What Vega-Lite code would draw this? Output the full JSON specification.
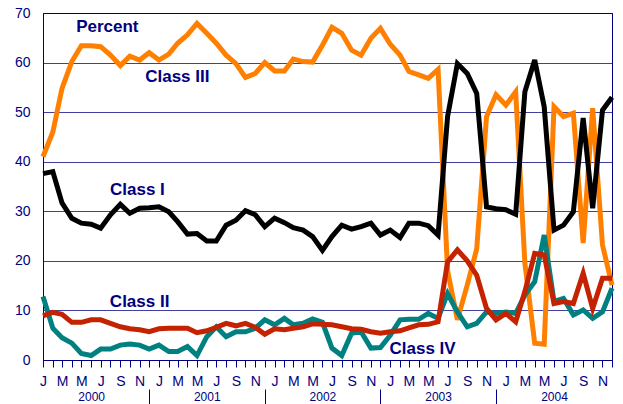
{
  "$schema": "https://vega.github.io/schema/vega-lite/v6.json",
  "width": 569,
  "height": 347,
  "autosize": "none",
  "padding": {"left": 43, "top": 13, "right": 11, "bottom": 44},
  "background": "white",
  "view": {"stroke": "#000080", "strokeWidth": 1},
  "config": {"view": {"stroke": "#000080", "strokeWidth": 1}, "font": "Liberation Sans"},
  "datasets": {
    "share": [
      {"d": "2000-01-01", "I": 37.6, "II": 8.9, "III": 41.0, "IV": 12.8},
      {"d": "2000-02-01", "I": 38.0, "II": 9.6, "III": 46.0, "IV": 6.4},
      {"d": "2000-03-01", "I": 31.7, "II": 9.2, "III": 54.8, "IV": 4.5},
      {"d": "2000-04-01", "I": 28.6, "II": 7.6, "III": 60.2, "IV": 3.4},
      {"d": "2000-05-01", "I": 27.6, "II": 7.6, "III": 63.4, "IV": 1.3},
      {"d": "2000-06-01", "I": 27.4, "II": 8.1, "III": 63.4, "IV": 0.9},
      {"d": "2000-07-01", "I": 26.6, "II": 8.1, "III": 63.2, "IV": 2.2},
      {"d": "2000-08-01", "I": 29.3, "II": 7.4, "III": 61.5, "IV": 2.2},
      {"d": "2000-09-01", "I": 31.4, "II": 6.7, "III": 59.4, "IV": 3.0},
      {"d": "2000-10-01", "I": 29.6, "II": 6.3, "III": 61.3, "IV": 3.2},
      {"d": "2000-11-01", "I": 30.6, "II": 6.1, "III": 60.5, "IV": 3.0},
      {"d": "2000-12-01", "I": 30.7, "II": 5.7, "III": 62.0, "IV": 2.2},
      {"d": "2001-01-01", "I": 30.9, "II": 6.3, "III": 60.5, "IV": 3.0},
      {"d": "2001-02-01", "I": 29.9, "II": 6.4, "III": 61.7, "IV": 1.7},
      {"d": "2001-03-01", "I": 27.9, "II": 6.4, "III": 63.9, "IV": 1.7},
      {"d": "2001-04-01", "I": 25.4, "II": 6.4, "III": 65.6, "IV": 2.7},
      {"d": "2001-05-01", "I": 25.5, "II": 5.5, "III": 67.9, "IV": 0.9},
      {"d": "2001-06-01", "I": 24.0, "II": 5.9, "III": 65.9, "IV": 4.7},
      {"d": "2001-07-01", "I": 24.0, "II": 6.6, "III": 63.9, "IV": 6.7},
      {"d": "2001-08-01", "I": 27.2, "II": 7.4, "III": 61.5, "IV": 4.7},
      {"d": "2001-09-01", "I": 28.2, "II": 6.9, "III": 59.8, "IV": 5.7},
      {"d": "2001-10-01", "I": 30.1, "II": 7.4, "III": 57.0, "IV": 5.7},
      {"d": "2001-11-01", "I": 29.3, "II": 6.6, "III": 57.8, "IV": 6.4},
      {"d": "2001-12-01", "I": 26.9, "II": 5.2, "III": 60.0, "IV": 8.1},
      {"d": "2002-01-01", "I": 28.6, "II": 6.3, "III": 58.3, "IV": 7.1},
      {"d": "2002-02-01", "I": 27.7, "II": 6.1, "III": 58.3, "IV": 8.4},
      {"d": "2002-03-01", "I": 26.7, "II": 6.4, "III": 60.7, "IV": 7.1},
      {"d": "2002-04-01", "I": 26.2, "II": 6.7, "III": 60.2, "IV": 7.4},
      {"d": "2002-05-01", "I": 24.9, "II": 7.3, "III": 60.1, "IV": 8.3},
      {"d": "2002-06-01", "I": 22.1, "II": 7.2, "III": 63.5, "IV": 7.6},
      {"d": "2002-07-01", "I": 24.9, "II": 7.1, "III": 67.1, "IV": 2.4},
      {"d": "2002-08-01", "I": 27.2, "II": 6.7, "III": 65.9, "IV": 0.9},
      {"d": "2002-09-01", "I": 26.4, "II": 6.3, "III": 62.5, "IV": 5.4},
      {"d": "2002-10-01", "I": 26.9, "II": 6.2, "III": 61.5, "IV": 5.7},
      {"d": "2002-11-01", "I": 27.6, "II": 5.7, "III": 64.9, "IV": 2.4},
      {"d": "2002-12-01", "I": 25.2, "II": 5.4, "III": 66.9, "IV": 2.5},
      {"d": "2003-01-01", "I": 26.2, "II": 5.7, "III": 63.7, "IV": 5.0},
      {"d": "2003-02-01", "I": 24.7, "II": 5.9, "III": 61.5, "IV": 8.1},
      {"d": "2003-03-01", "I": 27.6, "II": 6.5, "III": 58.2, "IV": 8.2},
      {"d": "2003-04-01", "I": 27.6, "II": 7.1, "III": 57.5, "IV": 8.2},
      {"d": "2003-05-01", "I": 27.1, "II": 7.2, "III": 56.8, "IV": 9.4},
      {"d": "2003-06-01", "I": 25.2, "II": 7.7, "III": 58.6, "IV": 8.4},
      {"d": "2003-07-01", "I": 49.1, "II": 19.8, "III": 18.0, "IV": 13.4},
      {"d": "2003-08-01", "I": 59.8, "II": 22.2, "III": 8.1, "IV": 9.7},
      {"d": "2003-09-01", "I": 57.8, "II": 20.0, "III": 15.1, "IV": 6.7},
      {"d": "2003-10-01", "I": 53.8, "II": 17.1, "III": 22.4, "IV": 7.4},
      {"d": "2003-11-01", "I": 30.9, "II": 10.4, "III": 49.1, "IV": 9.7},
      {"d": "2003-12-01", "I": 30.5, "II": 8.1, "III": 53.5, "IV": 9.4},
      {"d": "2004-01-01", "I": 30.3, "II": 9.4, "III": 51.4, "IV": 9.7},
      {"d": "2004-02-01", "I": 29.4, "II": 7.7, "III": 54.1, "IV": 9.4},
      {"d": "2004-03-01", "I": 54.1, "II": 13.8, "III": 19.5, "IV": 13.1},
      {"d": "2004-04-01", "I": 60.5, "II": 21.5, "III": 3.4, "IV": 15.8},
      {"d": "2004-05-01", "I": 51.1, "II": 21.2, "III": 3.2, "IV": 25.2},
      {"d": "2004-06-01", "I": 26.2, "II": 11.4, "III": 51.1, "IV": 11.8},
      {"d": "2004-07-01", "I": 27.2, "II": 11.8, "III": 49.1, "IV": 12.4},
      {"d": "2004-08-01", "I": 29.9, "II": 11.4, "III": 49.8, "IV": 9.1},
      {"d": "2004-09-01", "I": 48.8, "II": 17.5, "III": 23.6, "IV": 10.1},
      {"d": "2004-10-01", "I": 30.6, "II": 10.4, "III": 50.8, "IV": 8.4},
      {"d": "2004-11-01", "I": 50.4, "II": 16.5, "III": 23.2, "IV": 9.7},
      {"d": "2004-12-01", "I": 53.0, "II": 16.5, "III": 15.1, "IV": 14.5}
    ],
    "notes": [
      {"d": "2000-07-22", "v": 67.1, "label": "Percent"},
      {"d": "2001-02-28", "v": 57.1, "label": "Class III"},
      {"d": "2000-10-25", "v": 34.3, "label": "Class I"},
      {"d": "2000-11-01", "v": 11.8, "label": "Class II"},
      {"d": "2003-04-13", "v": 2.2, "label": "Class IV"}
    ]
  },
  "layer": [
    {
      "data": {"name": "share"},
      "mark": {"type": "line", "color": "#FF8000", "strokeWidth": 5, "strokeJoin": "miter"},
      "encoding": {
        "x": {
          "field": "d", "type": "temporal",
          "scale": {"type": "utc", "nice": false},
          "axis": {
            "orient": "bottom", "title": null, "grid": false,
            "tickCount": {"interval": "month", "step": 1},
            "labelExpr": "utcmonth(datum.value) % 2 == 0 ? substring(utcFormat(datum.value, '%b'), 0, 1) : ''",
            "labelOverlap": false, "labelFlush": false, "labelAngle": 0,
            "labelFont": "Liberation Sans", "labelFontSize": 14, "labelColor": "#000080",
            "labelPadding": 7, "tickColor": "#000080", "tickSize": 7, "domainColor": "#000080"
          }
        },
        "y": {
          "field": "III", "type": "quantitative",
          "scale": {"domain": [0, 70], "nice": false},
          "axis": {
            "orient": "left", "title": null, "values": [0, 10, 20, 30, 40, 50, 60, 70],
            "grid": true, "gridColor": "#000080", "gridOpacity": 0.75, "ticks": false,
            "domainColor": "#000080", "labelColor": "#000080", "labelFont": "Liberation Sans",
            "labelFontSize": 14, "labelPadding": 13
          }
        }
      }
    },
    {
      "data": {"name": "share"},
      "mark": {"type": "line", "color": "#008080", "strokeWidth": 5, "strokeJoin": "miter"},
      "encoding": {
        "x": {"field": "d", "type": "temporal", "axis": null},
        "y": {
          "field": "IV", "type": "quantitative",
          "axis": {"orient": "right", "title": null, "labels": false, "ticks": false, "grid": false, "domain": true, "domainColor": "#000080", "domainWidth": 1}
        }
      }
    },
    {
      "data": {"name": "share"},
      "mark": {"type": "line", "color": "#C42200", "strokeWidth": 5, "strokeJoin": "miter"},
      "encoding": {
        "x": {"field": "d", "type": "temporal", "axis": null},
        "y": {"field": "II", "type": "quantitative", "axis": null}
      }
    },
    {
      "data": {"name": "share"},
      "mark": {"type": "line", "color": "#000000", "strokeWidth": 5, "strokeJoin": "miter"},
      "encoding": {
        "x": {"field": "d", "type": "temporal", "axis": null},
        "y": {"field": "I", "type": "quantitative", "axis": null}
      }
    },
    {
      "data": {"name": "notes"},
      "mark": {"type": "text", "font": "Liberation Sans", "fontWeight": "bold", "fontSize": 17, "color": "#000080", "align": "center", "baseline": "middle"},
      "encoding": {
        "x": {
          "field": "d", "type": "temporal",
          "axis": {
            "orient": "bottom", "title": null, "grid": false, "domain": false,
            "values": [
              {"year": 2000, "month": 6, "date": 1, "utc": true},
              {"year": 2000, "month": 12, "date": 1, "utc": true},
              {"year": 2001, "month": 6, "date": 1, "utc": true},
              {"year": 2001, "month": 12, "date": 1, "utc": true},
              {"year": 2002, "month": 6, "date": 1, "utc": true},
              {"year": 2002, "month": 12, "date": 1, "utc": true},
              {"year": 2003, "month": 6, "date": 1, "utc": true},
              {"year": 2003, "month": 12, "date": 1, "utc": true},
              {"year": 2004, "month": 6, "date": 1, "utc": true}
            ],
            "labelExpr": "utcmonth(datum.value) == 5 ? utcFormat(datum.value, '%Y') : ''",
            "offset": 29, "tickSize": 15, "tickColor": "#000080",
            "tickOpacity": {"condition": {"test": "utcmonth(datum.value) == 11", "value": 1}, "value": 0},
            "labelPadding": -13, "labelFont": "Liberation Sans", "labelFontSize": 12,
            "labelColor": "#000080", "labelOverlap": false, "labelFlush": false, "labelAngle": 0
          }
        },
        "y": {"field": "v", "type": "quantitative", "axis": null},
        "text": {"field": "label"}
      }
    }
  ],
  "resolve": {"axis": {"x": "independent", "y": "independent"}}
}
